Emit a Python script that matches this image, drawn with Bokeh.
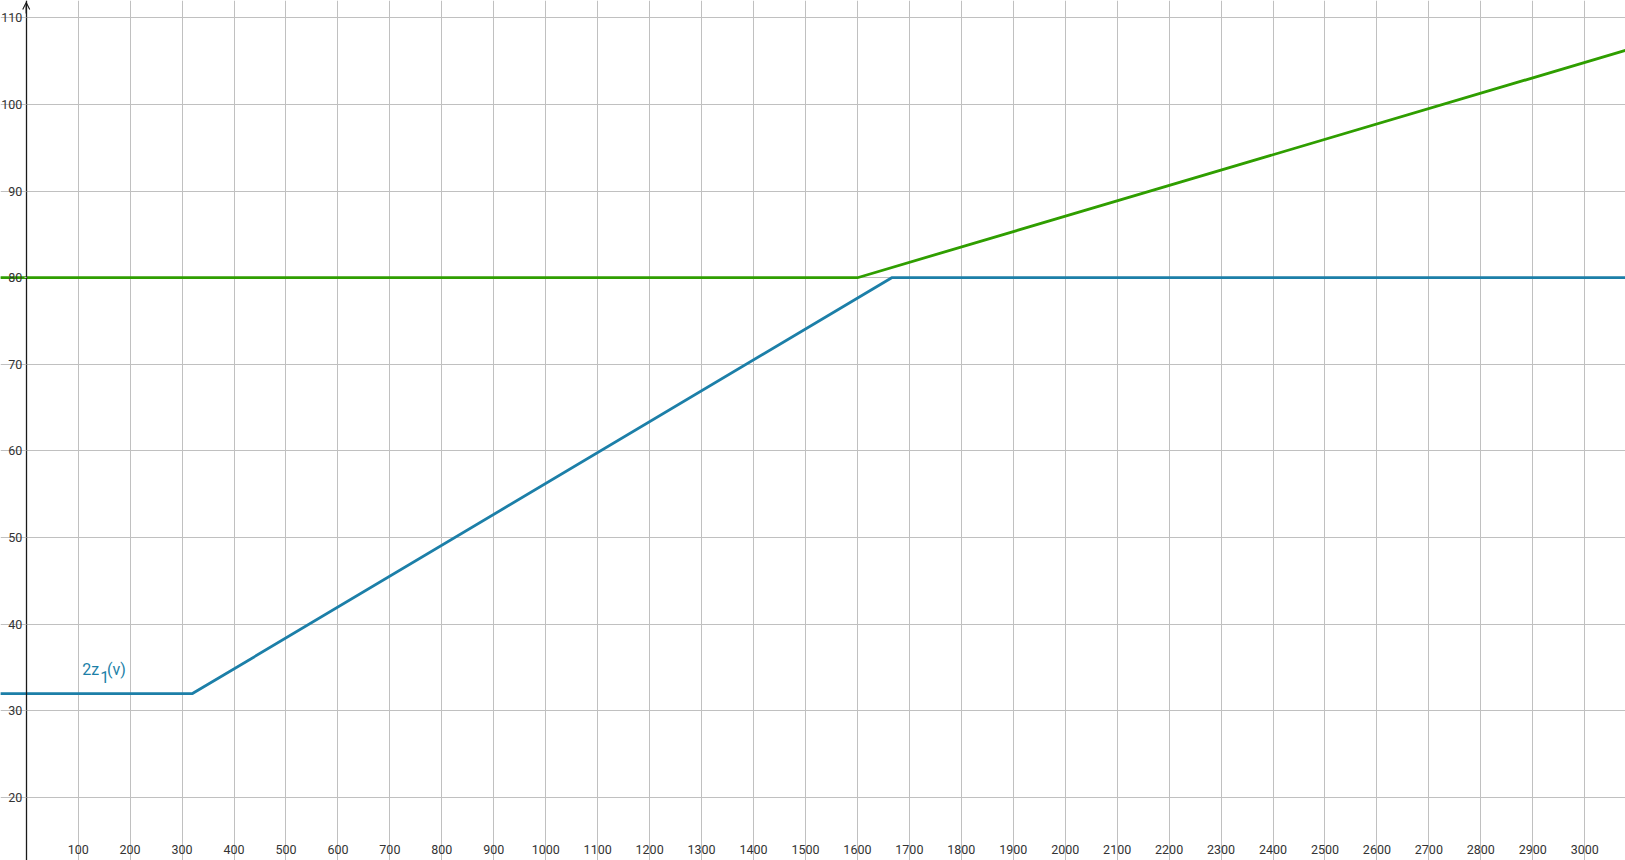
from bokeh.plotting import figure
from bokeh.models import FixedTicker, Range1d, Arrow, OpenHead, ColumnDataSource
from bokeh.core.properties import value
from bokeh.embed import file_html
from bokeh.resources import INLINE

# ---- data ----
blue_v = [-50, 320, 1666, 3080]
blue_z = [32, 32, 80, 80]
green_v = [-50, 1600, 3080]
green_z = [80, 80, 106.27]

x_ticks = list(range(100, 3001, 100))
x_grid = list(range(0, 3001, 100))
y_ticks = list(range(20, 111, 10))

label_parts = ["2z", "1", "(v)"]
label_x = [107.8, 142.4, 155.5]
label_y = [34.78, 33.89, 34.78]

X_START, X_END = -49.5, 3078.5
Y_START, Y_END = 12.73, 112.0
X_AXIS_AT = 14.75

BLUE = "#1C7FA8"
GREEN = "#2F9E00"
FONT = "Roboto"

p = figure(width=1625, height=860, output_backend="svg", toolbar_location=None,
           x_range=Range1d(X_START, X_END), y_range=Range1d(Y_START, Y_END),
           min_border=0, min_border_left=0, min_border_right=0,
           min_border_top=0, min_border_bottom=0)
p.margin = (0, 0, 0, 0)
p.outline_line_color = None
p.background_fill_color = "white"
p.border_fill_color = "white"

# grid
p.xgrid.ticker = FixedTicker(ticks=x_grid)
p.ygrid.ticker = FixedTicker(ticks=y_ticks)
for g in (p.xgrid, p.ygrid):
    g.grid_line_color = "#C0C0C0"
    g.grid_line_width = 1

# axes
xa = p.xaxis[0]
xa.ticker = FixedTicker(ticks=x_ticks)
xa.fixed_location = X_AXIS_AT
xa.axis_line_color = None
xa.major_tick_line_color = None
xa.minor_tick_line_color = None
xa.major_tick_out = 0
xa.major_tick_in = 0
xa.major_label_standoff = 2
xa.major_label_text_font = FONT
xa.major_label_text_font_size = "12.5px"
xa.major_label_text_color = "#333333"

ya = p.yaxis[0]
ya.ticker = FixedTicker(ticks=y_ticks)
ya.fixed_location = 0
ya.axis_line_color = "#1A1A1A"
ya.axis_line_width = 1.3
ya.major_tick_line_color = "#C0C0C0"
ya.minor_tick_line_color = None
ya.major_tick_out = 2
ya.major_tick_in = 0
ya.major_label_standoff = 2
ya.major_label_text_font = FONT
ya.major_label_text_font_size = "12.5px"
ya.major_label_text_color = "#333333"

# arrow head on y axis
p.add_layout(Arrow(end=OpenHead(size=7, line_width=1.1, line_color="#1A1A1A"),
                   x_start=0, y_start=110.5, x_end=0, y_end=111.77,
                   line_color="#1A1A1A", line_width=1.3))

# lines
p.line(green_v, green_z, line_color=GREEN, line_width=2.8)
p.line(blue_v, blue_z, line_color=BLUE, line_width=2.8)

# label 2z_1(v)
src = ColumnDataSource(dict(x=label_x, y=label_y, t=label_parts))
p.text(x="x", y="y", text="t", source=src, text_color=BLUE,
       text_font=value(FONT), text_font_size="16px",
       text_baseline="alphabetic", text_align="left")

open("out.html", "w").write(file_html(p, INLINE))
